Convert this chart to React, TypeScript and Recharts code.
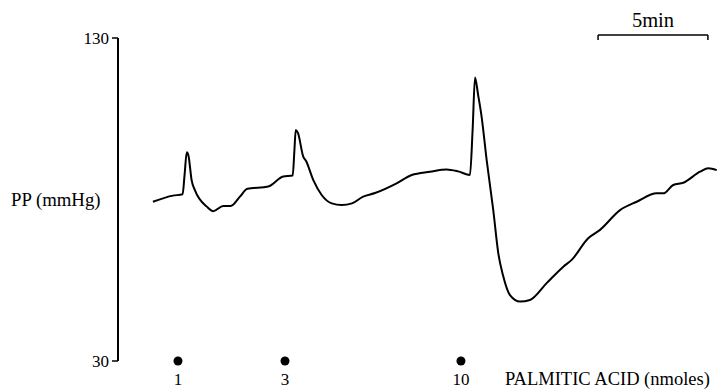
import React from "react";
import {
  ComposedChart,
  Line,
  Scatter,
  XAxis,
  YAxis,
  ReferenceLine,
  Customized,
} from "recharts";

// time (min) and perfusion pressure (mmHg)
const traceTimes = [
  1.59, 2.5, 2.94, 3.03, 3.13, 3.21, 3.35, 3.5, 4.04, 4.34, 4.79, 5.13, 5.55, 5.89,
  6.84, 7.52, 7.95, 8.03, 8.09, 8.19, 8.43, 8.56, 8.89, 9.27, 9.73, 10.18, 10.65,
  11.16, 11.7, 12.68, 13.37, 14.2, 14.96, 15.48, 16.02, 16.14, 16.25, 16.39, 16.55,
  16.78, 17.08, 17.31, 17.52, 17.84, 18.3, 18.75, 19.51, 20.27, 20.65, 21.4, 21.94,
  22.85, 23.61, 24.52, 24.82, 25.27, 25.73, 26.49, 26.87, 27.25,
];
const pressures = [
  79.3, 81.2, 81.6, 87.6, 94.6, 93.5, 86.0, 82.9, 77.8, 76.4, 78.0, 78.0, 80.9, 83.3,
  84.0, 87.1, 87.4, 95.3, 101.5, 100.6, 93.3, 91.9, 86.0, 81.4, 78.8, 78.3, 78.8,
  80.9, 82.0, 85.0, 87.6, 88.6, 89.3, 88.7, 87.6, 101.5, 117.8, 112.4, 105.6,
  92.2, 76.7, 63.3, 56.6, 50.4, 48.4, 48.9, 54.1, 59.2, 61.3, 68.0, 70.6,
  76.7, 79.3, 81.9, 81.9, 84.5, 85.2, 88.6, 89.7, 89.1,
];

// palmitic acid injections
const doseTimes = [2.73, 7.6, 15.61];
const doses = [1, 3, 10];

const yTicks = [30, 130];
const scaleBar = { start: 21.85, end: 26.85, level: 130.9, tickEnd: 129.4 };

const trace = traceTimes.map((t, i) => ({ t, pp: pressures[i] }));
const injections = doseTimes.map((t, i) => ({ t, base: 30, dose: doses[i] }));

const font = "'Liberation Serif', 'Times New Roman', serif";

const DoseMarker = (props: any) => {
  const { cx, cy, payload } = props;
  return (
    <g>
      <circle cx={cx} cy={cy} r={4.5} fill="#000" />
      <text
        x={cx}
        y={cy + 24}
        textAnchor="middle"
        fontFamily={font}
        fontSize={17}
        fill="#000"
      >
        {payload.dose}
      </text>
    </g>
  );
};

const App: React.FC = () => {
  return (
    <div style={{ position: "absolute", left: 0, top: 0, background: "#fff" }}>
      <ComposedChart
        width={721}
        height={392}
        data={trace}
        margin={{ top: 38, right: 1, bottom: 31, left: 0 }}
      >
        <XAxis dataKey="t" type="number" domain={[0, 27.4]} hide />
        <YAxis
          type="number"
          domain={[30, 130]}
          ticks={yTicks}
          width={118}
          axisLine={{ stroke: "#000", strokeWidth: 2 }}
          tickLine={{ stroke: "#000", strokeWidth: 1.5 }}
          tickSize={6}
          tickMargin={3}
          tick={{ fill: "#000", fontSize: 17, fontFamily: font }}
          label={{
            value: "PP (mmHg)",
            position: "insideLeft",
            offset: 11,
            fill: "#000",
            fontSize: 18.8,
            fontFamily: font,
          }}
        />
        <Line
          type="monotoneX"
          dataKey="pp"
          stroke="#000"
          strokeWidth={2}
          dot={false}
          isAnimationActive={false}
        />
        <Scatter
          data={injections}
          dataKey="base"
          shape={<DoseMarker />}
          isAnimationActive={false}
        />
        <ReferenceLine
          segment={[
            { x: scaleBar.start, y: scaleBar.level },
            { x: scaleBar.end, y: scaleBar.level },
          ]}
          stroke="#000"
          strokeWidth={1.5}
          ifOverflow="visible"
          label={{
            value: "5min",
            position: "top",
            offset: 8,
            fill: "#000",
            fontSize: 20.5,
            fontFamily: font,
          }}
        />
        <ReferenceLine
          segment={[
            { x: scaleBar.start, y: scaleBar.level },
            { x: scaleBar.start, y: scaleBar.tickEnd },
          ]}
          stroke="#000"
          strokeWidth={1.5}
          ifOverflow="visible"
        />
        <ReferenceLine
          segment={[
            { x: scaleBar.end, y: scaleBar.level },
            { x: scaleBar.end, y: scaleBar.tickEnd },
          ]}
          stroke="#000"
          strokeWidth={1.5}
          ifOverflow="visible"
        />
        <Customized
          component={() => (
            <text x={505} y={385} fontFamily={font} fontSize={18.5} fill="#000">
              PALMITIC ACID (nmoles)
            </text>
          )}
        />
      </ComposedChart>
    </div>
  );
};

export default App;
